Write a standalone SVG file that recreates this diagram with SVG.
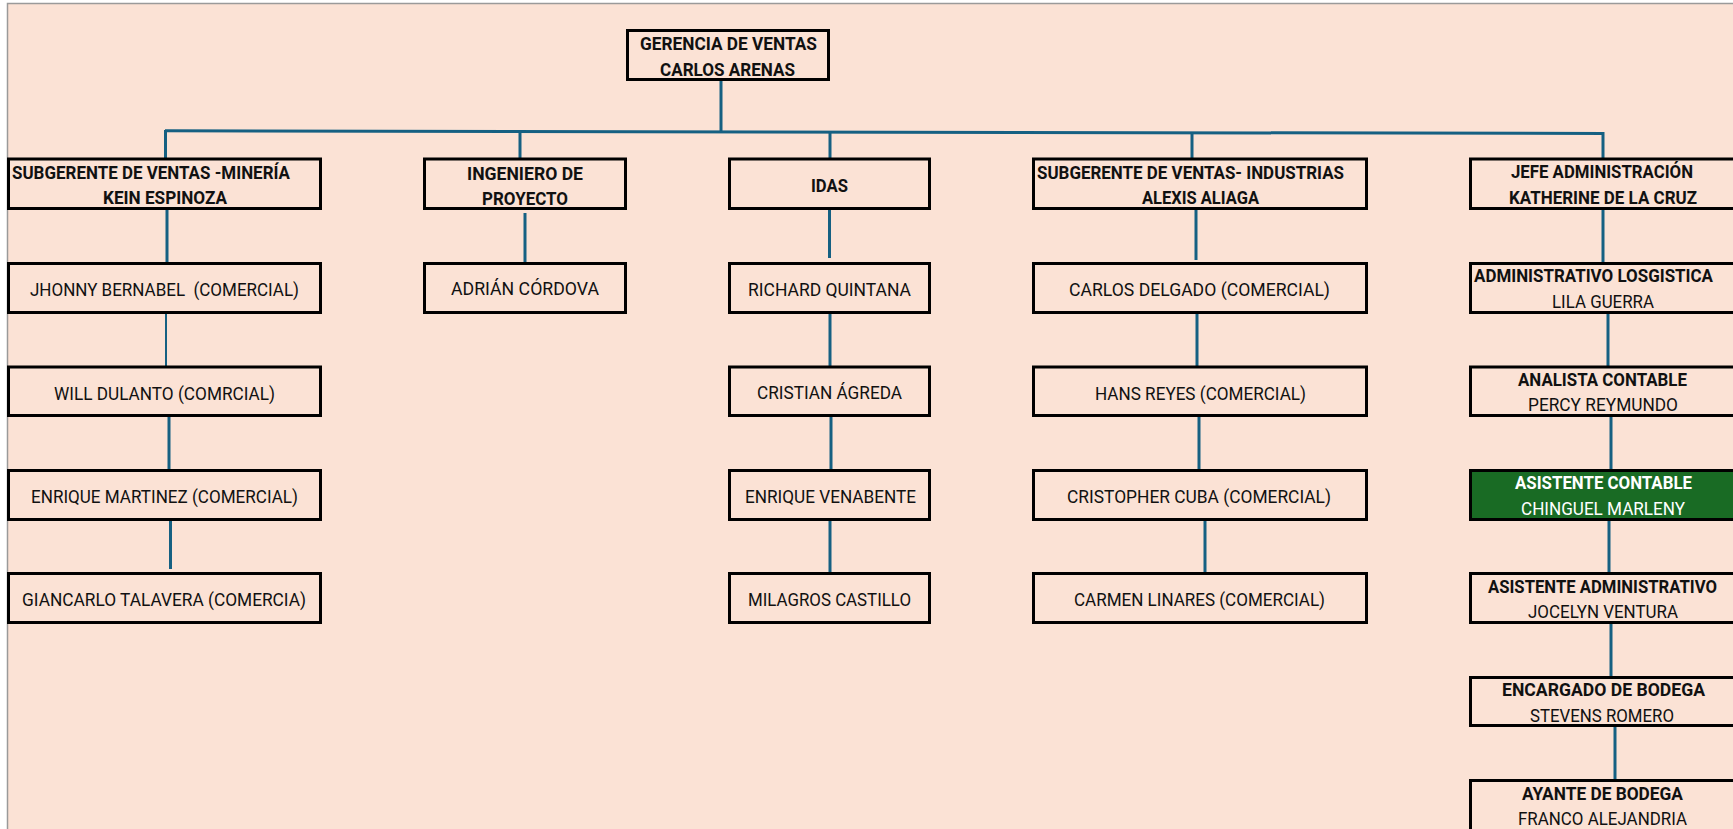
<svg xmlns="http://www.w3.org/2000/svg" width="1733" height="829" viewBox="0 0 1733 829">
<style>
.box{fill:none;stroke:#000;stroke-width:3}
.g{fill:#196B24;stroke:#000;stroke-width:3}
.ln{stroke:#156082;stroke-width:3;fill:none}
text{font-family:Roboto,"Liberation Sans",Arial,sans-serif;font-size:18.2px;fill:#111}
.b{font-weight:700}
.w{fill:#fff}
</style>
<rect x="0" y="0" width="1733" height="829" fill="#ffffff"/>
<rect x="7.5" y="3.5" width="1740" height="840" fill="#FBE2D5" stroke="#9a9a9a" stroke-width="1.5"/>
<g id="connectors">
<line class="ln" x1="721" y1="81" x2="721" y2="131"/>
<line class="ln" x1="165" y1="130.8" x2="1604" y2="133.5"/>
<line class="ln" x1="165.5" y1="130" x2="165.5" y2="158"/>
<line class="ln" x1="520" y1="131" x2="520" y2="158"/>
<line class="ln" x1="830" y1="131.5" x2="830" y2="158"/>
<line class="ln" x1="1192" y1="132.5" x2="1192" y2="158"/>
<line class="ln" x1="1603" y1="132" x2="1603" y2="158"/>
<line class="ln" x1="167" y1="210" x2="167" y2="263"/>
<line class="ln" x1="166" y1="314" x2="166" y2="366" style="stroke-width:2"/>
<line class="ln" x1="169" y1="417" x2="169" y2="469"/>
<line class="ln" x1="170.5" y1="520" x2="170.5" y2="569"/>
<line class="ln" x1="525" y1="213" x2="525" y2="264"/>
<line class="ln" x1="829.5" y1="210" x2="829.5" y2="258"/>
<line class="ln" x1="830" y1="314" x2="830" y2="366"/>
<line class="ln" x1="831" y1="417" x2="831" y2="470"/>
<line class="ln" x1="830" y1="521" x2="830" y2="574"/>
<line class="ln" x1="1196" y1="210" x2="1196" y2="260"/>
<line class="ln" x1="1197" y1="314" x2="1197" y2="366"/>
<line class="ln" x1="1199" y1="417" x2="1199" y2="469"/>
<line class="ln" x1="1205" y1="521" x2="1205" y2="574"/>
<line class="ln" x1="1603" y1="210" x2="1603" y2="262"/>
<line class="ln" x1="1608" y1="314" x2="1608" y2="366"/>
<line class="ln" x1="1611" y1="417" x2="1611" y2="469"/>
<line class="ln" x1="1609" y1="521" x2="1609" y2="572"/>
<line class="ln" x1="1611" y1="624" x2="1611" y2="676"/>
<line class="ln" x1="1615" y1="727" x2="1615" y2="779"/>
</g>
<g id="gerencia"><rect class="box" x="627.5" y="30.5" width="201" height="49"/>
<text class="b" x="640" y="50" textLength="177" lengthAdjust="spacingAndGlyphs">GERENCIA DE VENTAS</text>
<text class="b" x="660" y="76" textLength="135" lengthAdjust="spacingAndGlyphs">CARLOS ARENAS</text></g>
<g id="sub-mineria"><rect class="box" x="8.5" y="159" width="312" height="49.5"/>
<text class="b" x="12" y="179" textLength="278" lengthAdjust="spacingAndGlyphs">SUBGERENTE DE VENTAS -MINERÍA</text>
<text class="b" x="103" y="204" textLength="124" lengthAdjust="spacingAndGlyphs">KEIN ESPINOZA</text></g>
<g id="ingeniero"><rect class="box" x="424.5" y="159" width="201" height="49.5"/>
<text class="b" x="467" y="180" textLength="116" lengthAdjust="spacingAndGlyphs">INGENIERO DE</text>
<text class="b" x="482" y="205" textLength="86" lengthAdjust="spacingAndGlyphs">PROYECTO</text></g>
<g id="idas"><rect class="box" x="729.5" y="159" width="200" height="49.5"/>
<text class="b" x="811" y="192" textLength="37" lengthAdjust="spacingAndGlyphs">IDAS</text></g>
<g id="sub-industrias"><rect class="box" x="1033.5" y="159" width="333" height="49.5"/>
<text class="b" x="1037" y="179" textLength="307" lengthAdjust="spacingAndGlyphs">SUBGERENTE DE VENTAS- INDUSTRIAS</text>
<text class="b" x="1142" y="204" textLength="117" lengthAdjust="spacingAndGlyphs">ALEXIS ALIAGA</text></g>
<g id="jefe-admin"><rect class="box" x="1470.5" y="159" width="266" height="49.5"/>
<text class="b" x="1511" y="178" textLength="182" lengthAdjust="spacingAndGlyphs">JEFE ADMINISTRACIÓN</text>
<text class="b" x="1509" y="204" textLength="188" lengthAdjust="spacingAndGlyphs">KATHERINE DE LA CRUZ</text></g>
<g id="jhonny"><rect class="box" x="8.5" y="263.5" width="312" height="49"/>
<text x="30" y="296" textLength="269" lengthAdjust="spacingAndGlyphs" xml:space="preserve">JHONNY BERNABEL  (COMERCIAL)</text></g>
<g id="will"><rect class="box" x="8.5" y="367" width="312" height="48.5"/>
<text x="54" y="400" textLength="221" lengthAdjust="spacingAndGlyphs">WILL DULANTO (COMRCIAL)</text></g>
<g id="enrique-m"><rect class="box" x="8.5" y="470.5" width="312" height="49"/>
<text x="31" y="503" textLength="267" lengthAdjust="spacingAndGlyphs">ENRIQUE MARTINEZ (COMERCIAL)</text></g>
<g id="giancarlo"><rect class="box" x="8.5" y="573.5" width="312" height="49"/>
<text x="22" y="606" textLength="284" lengthAdjust="spacingAndGlyphs">GIANCARLO TALAVERA (COMERCIA)</text></g>
<g id="adrian"><rect class="box" x="424.5" y="263.5" width="201" height="49"/>
<text x="451" y="295" textLength="148" lengthAdjust="spacingAndGlyphs">ADRIÁN CÓRDOVA</text></g>
<g id="richard"><rect class="box" x="729.5" y="263.5" width="200" height="49"/>
<text x="748" y="296" textLength="163" lengthAdjust="spacingAndGlyphs">RICHARD QUINTANA</text></g>
<g id="cristian"><rect class="box" x="729.5" y="367" width="200" height="48.5"/>
<text x="757" y="399" textLength="145" lengthAdjust="spacingAndGlyphs">CRISTIAN ÁGREDA</text></g>
<g id="enrique-v"><rect class="box" x="729.5" y="470.5" width="200" height="49"/>
<text x="745" y="503" textLength="171" lengthAdjust="spacingAndGlyphs">ENRIQUE VENABENTE</text></g>
<g id="milagros"><rect class="box" x="729.5" y="573.5" width="200" height="49"/>
<text x="748" y="606" textLength="163" lengthAdjust="spacingAndGlyphs">MILAGROS CASTILLO</text></g>
<g id="carlos-d"><rect class="box" x="1033.5" y="263.5" width="333" height="49"/>
<text x="1069" y="296" textLength="261" lengthAdjust="spacingAndGlyphs">CARLOS DELGADO (COMERCIAL)</text></g>
<g id="hans"><rect class="box" x="1033.5" y="367" width="333" height="48.5"/>
<text x="1095" y="400" textLength="211" lengthAdjust="spacingAndGlyphs">HANS REYES (COMERCIAL)</text></g>
<g id="cristopher"><rect class="box" x="1033.5" y="470.5" width="333" height="49"/>
<text x="1067" y="503" textLength="264" lengthAdjust="spacingAndGlyphs">CRISTOPHER CUBA (COMERCIAL)</text></g>
<g id="carmen"><rect class="box" x="1033.5" y="573.5" width="333" height="49"/>
<text x="1074" y="606" textLength="251" lengthAdjust="spacingAndGlyphs">CARMEN LINARES (COMERCIAL)</text></g>
<g id="admin-log"><rect class="box" x="1470.5" y="263.5" width="266" height="49"/>
<text class="b" x="1474" y="282" textLength="239" lengthAdjust="spacingAndGlyphs">ADMINISTRATIVO LOSGISTICA</text>
<text x="1552" y="308" textLength="102" lengthAdjust="spacingAndGlyphs">LILA GUERRA</text></g>
<g id="analista"><rect class="box" x="1470.5" y="367" width="266" height="48.5"/>
<text class="b" x="1518" y="386" textLength="169" lengthAdjust="spacingAndGlyphs">ANALISTA CONTABLE</text>
<text x="1528" y="411" textLength="150" lengthAdjust="spacingAndGlyphs">PERCY REYMUNDO</text></g>
<g id="asistente-contable"><rect class="g" x="1470.5" y="470.5" width="266" height="49"/>
<text class="b w" x="1515" y="489" textLength="177" lengthAdjust="spacingAndGlyphs">ASISTENTE CONTABLE</text>
<text class="w" x="1521" y="515" textLength="164" lengthAdjust="spacingAndGlyphs">CHINGUEL MARLENY</text></g>
<g id="asistente-admin"><rect class="box" x="1470.5" y="573.5" width="266" height="49"/>
<text class="b" x="1488" y="593" textLength="229" lengthAdjust="spacingAndGlyphs">ASISTENTE ADMINISTRATIVO</text>
<text x="1528" y="618" textLength="150" lengthAdjust="spacingAndGlyphs">JOCELYN VENTURA</text></g>
<g id="encargado"><rect class="box" x="1470.5" y="677.5" width="266" height="48"/>
<text class="b" x="1502" y="696" textLength="203" lengthAdjust="spacingAndGlyphs">ENCARGADO DE BODEGA</text>
<text x="1530" y="722" textLength="144" lengthAdjust="spacingAndGlyphs">STEVENS ROMERO</text></g>
<g id="ayante"><rect class="box" x="1470.5" y="780.5" width="266" height="52"/>
<text class="b" x="1522" y="800" textLength="161" lengthAdjust="spacingAndGlyphs">AYANTE DE BODEGA</text>
<text x="1518" y="825" textLength="169" lengthAdjust="spacingAndGlyphs">FRANCO ALEJANDRIA</text></g>
</svg>
